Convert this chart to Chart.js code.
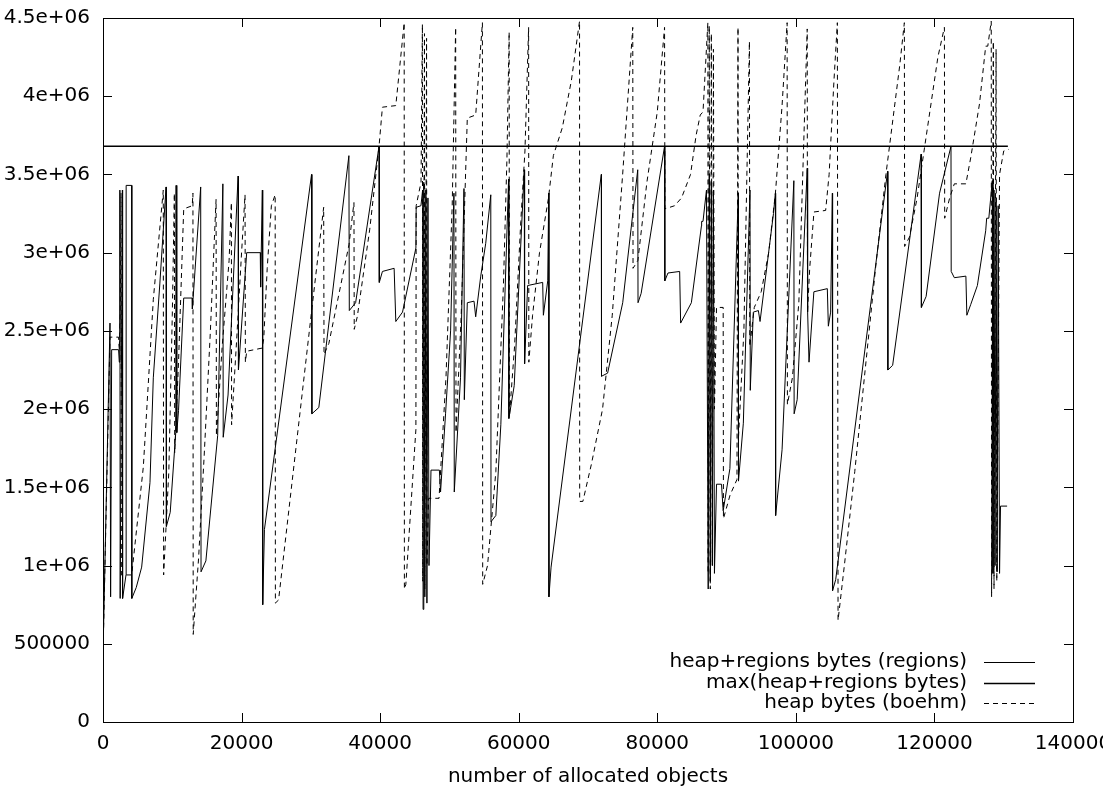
<!DOCTYPE html>
<html>
<head>
<meta charset="utf-8">
<script src="https://cdn.jsdelivr.net/npm/chart.js@4"></script>
<style>
  html, body { margin: 0; padding: 0; background: #fff; }
  canvas { display: block; }
</style>
</head>
<body>
<canvas id="chart" width="1103" height="791"></canvas>
<script>
// gnuplot-style memory plot: regions vs boehm heap sizes

const seriesLabels = ['heap+regions bytes (regions)', 'max(heap+regions bytes)', 'heap bytes (boehm)'];
const xTickValues = [0, 20000, 40000, 60000, 80000, 100000, 120000, 140000];
const xTickLabels = ['0', '20000', '40000', '60000', '80000', '100000', '120000', '140000'];
const yTickValues = [0, 500000, 1000000, 1500000, 2000000, 2500000, 3000000, 3500000, 4000000, 4500000];
const yTickLabels = ['0', '500000', '1e+06', '1.5e+06', '2e+06', '2.5e+06', '3e+06', '3.5e+06', '4e+06', '4.5e+06'];
const xTitle = 'number of allocated objects';

// [objects, bytes]
const regionsData = [
  [0, 430000], [1010, 2550000], [1100, 800000], [1250, 2380000], [2250, 2380000], [2350, 2300000],
  [2420, 2650000], [2450, 3400000], [2480, 790000], [2800, 3400000], [2830, 790000], [3320, 940000],
  [3340, 3430000], [4140, 3430000], [4160, 790000], [4800, 860000], [5580, 990000], [6780, 1530000],
  [7260, 2200000], [8200, 2800000], [9100, 3420000], [9150, 1250000], [9700, 1340000], [10500, 1850000],
  [10550, 3430000], [10650, 1850000], [10900, 1990000], [11650, 2710000], [12880, 2710000], [12900, 2640000],
  [14100, 3420000], [14150, 960000], [14850, 1030000], [16550, 1830000], [17300, 3440000], [17350, 1820000],
  [18050, 2090000], [19500, 3490000], [19550, 2250000], [20740, 3000000], [22700, 3000000], [22750, 2780000],
  [23000, 3400000], [23050, 750000], [23300, 1230000], [30100, 3500000], [30150, 1970000], [31150, 2010000],
  [35490, 3620000], [35550, 2630000], [36460, 2680000], [39840, 3680000], [39880, 2810000], [40330, 2880000],
  [42020, 2900000], [42260, 2560000], [43230, 2620000], [45160, 3030000], [45200, 3290000], [45890, 3300000],
  [46130, 3400000], [46200, 720000], [46300, 3450000], [46450, 800000], [46600, 3400000], [46750, 760000],
  [46900, 3350000], [47050, 1000000], [47340, 1610000], [48550, 1610000], [48720, 1470000], [49440, 1970000],
  [50170, 2500000], [50650, 3380000], [50700, 1470000], [51600, 2200000], [52100, 3410000], [52150, 2060000],
  [52580, 2680000], [53550, 2690000], [53790, 2590000], [54520, 2850000], [55240, 3060000], [55970, 3370000],
  [56000, 1280000], [56700, 1320000], [57420, 1900000], [58540, 3470000], [58580, 1940000], [59350, 2150000],
  [60800, 3530000], [60850, 2290000], [61290, 2790000], [63460, 2810000], [63560, 2600000], [64190, 2820000],
  [64330, 3380000], [64360, 800000], [64670, 990000], [71920, 3500000], [71950, 2210000], [72830, 2230000],
  [75010, 2680000], [77180, 3530000], [77220, 2680000], [77670, 2740000], [81050, 3680000], [81090, 2820000],
  [81540, 2870000], [83230, 2880000], [83370, 2550000], [84920, 2680000], [86370, 3170000], [86400, 3200000],
  [86600, 3200000], [87100, 3400000], [87350, 850000], [87500, 3500000], [87650, 900000], [87800, 3450000],
  [87950, 1000000], [88100, 3400000], [88250, 950000], [88550, 1520000], [89270, 1520000], [89510, 1350000],
  [90480, 1620000], [91690, 3380000], [91720, 1540000], [92420, 1910000], [93380, 3400000], [93420, 2120000],
  [93860, 2620000], [94590, 2630000], [94830, 2560000], [96770, 3250000], [97050, 3380000], [97080, 1320000],
  [98010, 1740000], [99710, 3460000], [99750, 1970000], [100190, 2060000], [101640, 3540000], [101700, 2620000],
  [101900, 2300000], [102600, 2750000], [104540, 2770000], [104690, 2530000], [105020, 2620000], [105270, 3380000],
  [105300, 840000], [105750, 910000], [113240, 3520000], [113280, 2250000], [113970, 2280000], [118080, 3630000],
  [118120, 2650000], [118800, 2720000], [120740, 3380000], [122390, 3680000], [122420, 2880000], [122870, 2840000],
  [124540, 2850000], [124680, 2600000], [125250, 2670000], [126200, 2790000], [127400, 3140000], [127540, 3220000],
  [127850, 3220000], [128350, 3460000], [128450, 950000], [128600, 3400000], [128750, 1000000], [128900, 3350000],
  [129050, 960000], [129200, 3300000], [129400, 950000], [129540, 1380000], [130490, 1380000]
];

const maxData = [[0, 3680000], [130600, 3680000]];

const boehmData = [
  [0, 430000], [1010, 2460000], [2250, 2460000], [2350, 2380000], [2500, 2620000], [2600, 3380000],
  [2650, 940000], [4140, 940000], [5820, 1630000], [7260, 2700000], [8700, 3400000], [8750, 940000],
  [9500, 1600000], [10000, 2600000], [10300, 3380000], [10350, 1720000], [10900, 2300000], [11650, 3280000],
  [12880, 3300000], [12980, 3380000], [13020, 560000], [13800, 1050000], [14600, 1700000], [15500, 2500000],
  [16320, 3340000], [16370, 1830000], [17200, 2400000], [18200, 2950000], [18530, 3320000], [18560, 1900000],
  [19300, 2450000], [20000, 3000000], [20500, 3370000], [20550, 2300000], [20740, 2370000], [22960, 2390000],
  [23200, 2450000], [23700, 2900000], [24300, 3300000], [24850, 3370000], [24880, 760000], [25340, 780000],
  [30170, 2650000], [31850, 3290000], [31900, 2350000], [32600, 2420000], [35500, 3050000], [36220, 3320000],
  [36260, 2510000], [36700, 2590000], [38500, 3150000], [39840, 3680000], [40330, 3930000], [42260, 3940000],
  [43470, 4470000], [43500, 850000], [43710, 880000], [45160, 1870000], [45200, 3300000], [45900, 3450000],
  [46100, 4460000], [46150, 900000], [46400, 4400000], [46450, 850000], [46700, 4370000], [46750, 1000000],
  [47000, 1430000], [48500, 1430000], [49500, 2200000], [50400, 3300000], [50900, 4440000], [50950, 1850000],
  [51700, 2600000], [52580, 3860000], [53790, 3880000], [54760, 4470000], [54800, 880000], [55500, 1000000],
  [56700, 1600000], [57800, 2800000], [58300, 3600000], [58620, 4410000], [58650, 1950000], [59400, 2400000],
  [60300, 3200000], [60900, 3650000], [61430, 4440000], [61460, 2300000], [62000, 2600000], [63000, 3000000],
  [64300, 3350000], [65000, 3620000], [66300, 3800000], [67600, 4100000], [68780, 4480000], [68800, 1410000],
  [69260, 1410000], [70500, 1650000], [72100, 2000000], [73500, 2600000], [75000, 3500000], [76460, 4440000],
  [76500, 2900000], [77200, 2950000], [78500, 3450000], [80000, 3900000], [81050, 4440000], [81100, 3280000],
  [82500, 3300000], [83500, 3350000], [84800, 3500000], [85600, 3750000], [86200, 3880000], [86600, 3900000],
  [87300, 4470000], [87350, 950000], [87500, 4450000], [87650, 850000], [87800, 4400000], [87950, 1000000],
  [88100, 4300000], [88250, 2000000], [88550, 2650000], [89510, 2650000], [89550, 1300000], [90500, 1450000],
  [91500, 1550000], [91650, 4440000], [91700, 1800000], [92500, 2500000], [93300, 4350000], [93350, 2400000],
  [94000, 2650000], [95000, 2750000], [96080, 3000000], [97050, 3380000], [98010, 3940000], [98740, 4470000],
  [98780, 2030000], [99500, 2200000], [100430, 2680000], [101640, 4430000], [101680, 2620000], [102000, 2900000],
  [102610, 3260000], [104300, 3270000], [104800, 3500000], [105500, 4100000], [105990, 4470000], [106090, 650000],
  [107000, 1000000], [108500, 1600000], [110000, 2250000], [111500, 2900000], [113000, 3500000], [114000, 3850000],
  [115000, 4200000], [115660, 4470000], [115700, 3040000], [116400, 3100000], [117500, 3350000], [118500, 3650000],
  [119500, 3950000], [120500, 4250000], [121440, 4440000], [121480, 3220000], [122200, 3350000], [122870, 3440000],
  [124540, 3440000], [125250, 3610000], [126500, 3950000], [127400, 4320000], [127700, 4320000], [128200, 4480000],
  [128250, 800000], [128500, 4350000], [128600, 850000], [128900, 4300000], [129000, 900000], [129400, 3500000],
  [130000, 3650000], [130700, 3660000]
];

const FONT = 'DejaVu Sans';
const FONT_SIZE = 20;

function toPoints(pairs) {
  return pairs.map(p => ({ x: p[0], y: p[1] }));
}

// white page behind the plot
const background = {
  id: 'background',
  beforeDraw(chart) {
    const c = chart.ctx;
    c.save();
    c.fillStyle = '#fff';
    c.fillRect(0, 0, chart.width, chart.height);
    c.restore();
  }
};

// border box + inward ticks on all four sides, like gnuplot
const frame = {
  id: 'frame',
  afterDatasetsDraw(chart) {
    const c = chart.ctx, a = chart.chartArea;
    const xs = chart.scales.x, ys = chart.scales.y;
    const len = 9;
    c.save();
    c.strokeStyle = '#000';
    c.lineWidth = 1;
    c.setLineDash([]);
    c.beginPath();
    xTickValues.forEach(v => {
      const px = Math.round(xs.getPixelForValue(v)) + 0.5;
      c.moveTo(px, a.bottom); c.lineTo(px, a.bottom - len);
      c.moveTo(px, a.top); c.lineTo(px, a.top + len);
    });
    yTickValues.forEach(v => {
      const py = Math.round(ys.getPixelForValue(v)) + 0.5;
      c.moveTo(a.left, py); c.lineTo(a.left + len, py);
      c.moveTo(a.right, py); c.lineTo(a.right - len, py);
    });
    c.stroke();
    c.strokeRect(Math.round(a.left) + 0.5, Math.round(a.top) + 0.5,
                 Math.round(a.right - a.left), Math.round(a.bottom - a.top));
    c.restore();
  }
};

// key in the lower right corner: text right-aligned, sample line after it
const key = {
  id: 'key',
  afterDatasetsDraw(chart) {
    const c = chart.ctx, a = chart.chartArea;
    c.save();
    c.font = FONT_SIZE + 'px "' + FONT + '"';
    c.fillStyle = '#000';
    c.strokeStyle = '#000';
    c.textAlign = 'right';
    c.textBaseline = 'middle';
    chart.data.datasets.forEach((ds, i) => {
      const y = a.bottom - 60 + i * 20.5;
      c.fillText(ds.label, a.right - 106, y);
      c.beginPath();
      c.setLineDash(ds.borderDash || []);
      c.lineWidth = ds.borderWidth;
      c.moveTo(a.right - 89, Math.round(y) + 0.5);
      c.lineTo(a.right - 38, Math.round(y) + 0.5);
      c.stroke();
    });
    c.restore();
  }
};

const lineStyle = { showLine: true, pointRadius: 0, tension: 0, borderColor: '#000', fill: false };

new Chart(document.getElementById('chart').getContext('2d'), {
  type: 'scatter',
  data: {
    datasets: [
      Object.assign({ label: seriesLabels[0], data: toPoints(regionsData), borderWidth: 1 }, lineStyle),
      Object.assign({ label: seriesLabels[1], data: toPoints(maxData), borderWidth: 1.6 }, lineStyle),
      Object.assign({ label: seriesLabels[2], data: toPoints(boehmData), borderWidth: 1, borderDash: [5, 4] }, lineStyle)
    ]
  },
  options: {
    responsive: false,
    animation: false,
    devicePixelRatio: 1,
    layout: { padding: { top: 18, right: 30, left: 0, bottom: 0 } },
    plugins: { legend: { display: false }, tooltip: { enabled: false } },
    scales: {
      x: {
        type: 'linear', min: 0, max: 140000,
        grid: { display: false, drawTicks: false },
        border: { display: false },
        ticks: {
          stepSize: 20000, padding: 10, color: '#000', maxRotation: 0, autoSkip: false,
          font: { family: FONT, size: FONT_SIZE },
          callback: v => { const i = xTickValues.indexOf(v); return i < 0 ? '' : xTickLabels[i]; }
        },
        title: {
          display: true, text: xTitle, color: '#000',
          font: { family: FONT, size: FONT_SIZE }, padding: { top: 0, bottom: 2 }
        },
        afterFit: s => { s.height = 69; s.paddingLeft = 0; s.paddingRight = 0; }
      },
      y: {
        type: 'linear', min: 0, max: 4500000,
        grid: { display: false, drawTicks: false },
        border: { display: false },
        ticks: {
          stepSize: 500000, padding: 13, color: '#000', autoSkip: false,
          font: { family: FONT, size: FONT_SIZE },
          callback: v => { const i = yTickValues.indexOf(v); return i < 0 ? '' : yTickLabels[i]; }
        },
        afterFit: s => { s.width = 103; s.paddingTop = 0; s.paddingBottom = 0; }
      }
    }
  },
  plugins: [background, frame, key]
});
</script>
</body>
</html>
